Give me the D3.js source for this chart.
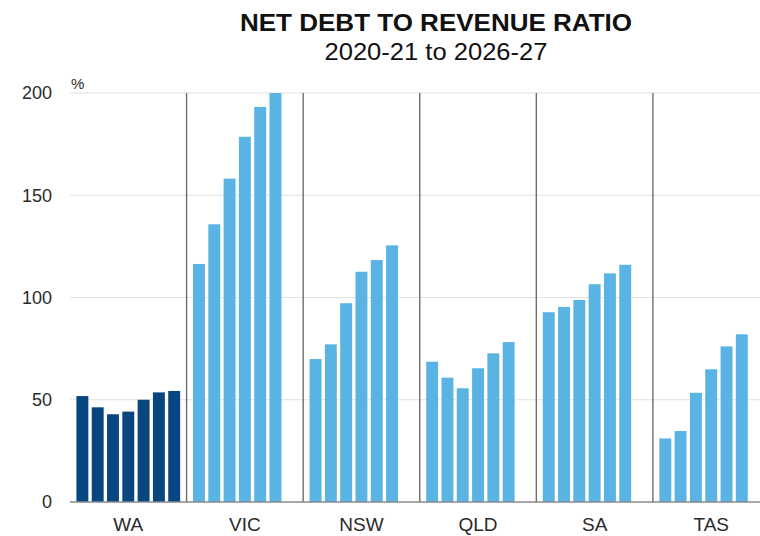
<!DOCTYPE html>
<html>
<head>
<meta charset="utf-8">
<script src="https://cdn.jsdelivr.net/npm/d3@7"></script>
<style>
  html, body { margin: 0; padding: 0; background: #fff; }
  svg { display: block; font-family: "Liberation Sans", Arial, sans-serif; }
</style>
</head>
<body>
<svg id="chart" width="760" height="536"></svg>
<script>
// Net debt to revenue ratio by state, per cent
const states = ["WA", "VIC", "NSW", "QLD", "SA", "TAS"];
const years = ["2020-21", "2021-22", "2022-23", "2023-24", "2024-25", "2025-26", "2026-27"];
const waValues  = [51.8, 46.3, 42.9, 44.2, 50.0, 53.6, 54.3];
const vicValues = [116.4, 135.8, 158.1, 178.6, 193.2, 200.0];
const nswValues = [69.9, 77.1, 97.2, 112.6, 118.3, 125.5];
const qldValues = [68.6, 60.8, 55.6, 65.4, 72.7, 78.2];
const saValues  = [92.8, 95.4, 98.8, 106.5, 111.8, 116.0];
const tasValues = [31.1, 34.7, 53.4, 64.9, 76.1, 82.0];
const yTicks = [0, 50, 100, 150, 200];

const series = [waValues, vicValues, nswValues, qldValues, saValues, tasValues];
const rows = states.flatMap((s, i) =>
  series[i].map((v, j) => ({ state: s, year: years[j], value: v }))
);

const svg = d3.select("#chart");
const W = 760;
const plotLeft = 70, plotRight = 769.5, plotTop = 93, plotBottom = 502;

const x0 = d3.scaleBand().domain(states).range([plotLeft, plotRight]);
const x1 = d3.scaleBand().domain(years).range([0, x0.bandwidth()])
  .paddingInner(0.22).paddingOuter(0.42);
const y = d3.scaleLinear().domain([0, 200]).range([plotBottom, plotTop]);

// Title
svg.append("text")
  .attr("x", 436).attr("y", 31)
  .attr("text-anchor", "middle")
  .attr("font-size", 24).attr("font-weight", "bold").attr("fill", "#111")
  .attr("textLength", 392).attr("lengthAdjust", "spacingAndGlyphs")
  .text("NET DEBT TO REVENUE RATIO");
svg.append("text")
  .attr("x", 436).attr("y", 60)
  .attr("text-anchor", "middle")
  .attr("font-size", 23).attr("fill", "#111")
  .attr("textLength", 223).attr("lengthAdjust", "spacingAndGlyphs")
  .text("2020-21 to 2026-27");

// Gridlines
svg.append("g")
  .selectAll("line")
  .data(yTicks.filter(d => d > 0))
  .join("line")
  .attr("x1", plotLeft).attr("x2", W)
  .attr("y1", d => y(d)).attr("y2", d => y(d))
  .attr("stroke", "#e2e2e2").attr("stroke-width", 1.2);

// Bars
svg.append("g")
  .selectAll("rect")
  .data(rows)
  .join("rect")
  .attr("x", d => x0(d.state) + x1(d.year))
  .attr("width", x1.bandwidth())
  .attr("y", d => y(d.value))
  .attr("height", d => y(0) - y(d.value))
  .attr("fill", d => d.state === "WA" ? "#084680" : "#59b4e4");

// Group separators
svg.append("g")
  .selectAll("line")
  .data(states.slice(1))
  .join("line")
  .attr("x1", d => x0(d)).attr("x2", d => x0(d))
  .attr("y1", y(200)).attr("y2", y(0))
  .attr("stroke", "#6e6e6e").attr("stroke-width", 1.4);

// Baseline
svg.append("line")
  .attr("x1", plotLeft).attr("x2", W)
  .attr("y1", y(0)).attr("y2", y(0))
  .attr("stroke", "#8a8a8a").attr("stroke-width", 1.4);

// Y axis
const yAxis = svg.append("g")
  .attr("transform", `translate(${plotLeft},0)`)
  .call(d3.axisLeft(y).tickValues(yTicks).tickSize(0).tickPadding(18));
yAxis.select(".domain").remove();
yAxis.selectAll("text")
  .attr("font-size", 18).attr("fill", "#2a2a2a")
  .attr("font-family", "Liberation Sans, Arial, sans-serif");

svg.append("text")
  .attr("x", 71).attr("y", 89)
  .attr("font-size", 15).attr("fill", "#2a2a2a")
  .text("%");

// X axis
const xAxis = svg.append("g")
  .attr("transform", `translate(0,${plotBottom})`)
  .call(d3.axisBottom(x0).tickSize(0).tickPadding(16));
xAxis.select(".domain").remove();
xAxis.selectAll("text")
  .attr("font-size", 19).attr("fill", "#2a2a2a")
  .attr("font-family", "Liberation Sans, Arial, sans-serif");
</script>
</body>
</html>
